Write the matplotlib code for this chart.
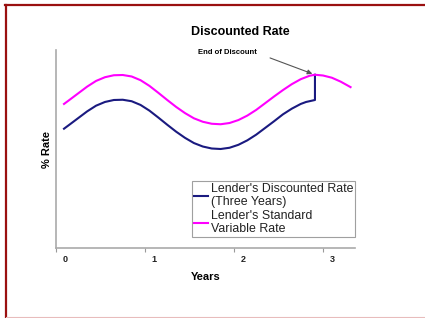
import matplotlib
matplotlib.use("Agg")
import matplotlib.pyplot as plt
import matplotlib.transforms as mtransforms
from matplotlib.lines import Line2D

plt.rcParams['font.family'] = ['Liberation Sans', 'DejaVu Sans']

# Data (years, % rate)
years_std = [0.09, 0.15, 0.25, 0.35, 0.45, 0.55, 0.65, 0.75, 0.85, 0.95, 1.05, 1.15,
             1.25, 1.35, 1.45, 1.55, 1.65, 1.75, 1.85, 1.95, 2.05, 2.15, 2.25, 2.35,
             2.45, 2.55, 2.65, 2.75, 2.85, 2.91, 3.0, 3.1, 3.2, 3.31]
rate_std = [5.82, 5.98, 6.25, 6.52, 6.75, 6.9, 6.98, 6.99, 6.93, 6.78, 6.55, 6.27,
            5.98, 5.7, 5.45, 5.24, 5.1, 5.02, 5.0, 5.05, 5.17, 5.35, 5.58, 5.85,
            6.12, 6.38, 6.62, 6.82, 6.96, 7.0, 6.97, 6.88, 6.72, 6.5]
years_disc = [0.09, 0.15, 0.25, 0.35, 0.45, 0.55, 0.65, 0.75, 0.85, 0.95, 1.05, 1.15,
              1.25, 1.35, 1.45, 1.55, 1.65, 1.75, 1.85, 1.95, 2.05, 2.15, 2.25, 2.35,
              2.45, 2.55, 2.65, 2.75, 2.81, 2.91, 2.91]
rate_disc = [4.82, 4.98, 5.25, 5.52, 5.75, 5.9, 5.98, 5.99, 5.93, 5.78, 5.55, 5.27,
             4.98, 4.7, 4.45, 4.24, 4.1, 4.02, 4.0, 4.05, 4.17, 4.35, 4.58, 4.85,
             5.12, 5.4, 5.63, 5.82, 5.9, 5.98, 7.0]
xticks = [0, 1, 2, 3]
xtick_labels = ["0", "1", "2", "3"]
end_discount = (2.91, 7.0)

W, H = 425, 318
fig = plt.figure(figsize=(W / 100, H / 100), dpi=100)
fig.patch.set_facecolor('white')

ax = fig.add_axes([56 / W, 1 - 248 / H, (355 - 56) / W, (248 - 50) / H])
ax.plot(years_disc, rate_disc, color='#1a1a80', lw=1.5, label="Lender's Discounted Rate\n(Three Years)")
ax.plot(years_std, rate_std, color='#ff00ff', lw=1.5, label="Lender's Standard\nVariable Rate")
ax.set_xlim(0, 3.36)
ax.set_ylim(0, 8)
ax.set_yticks([])
ax.set_xticks(xticks)
ax.set_xticklabels([])
# tick labels sit slightly to the right of their ticks in the reference
lab_trans = ax.get_xaxis_transform() + mtransforms.ScaledTranslation(0.09, -0.12, fig.dpi_scale_trans)
for xv, lab in zip(xticks, xtick_labels):
    ax.text(xv, 0, lab, transform=lab_trans, fontsize=6.5, fontweight='bold',
            color='#222222', ha='center', va='center')
ax.tick_params(axis='x', length=3, width=0.8, color='#999999', direction='out')
for s in ['top', 'right']:
    ax.spines[s].set_visible(False)
for s in ['left', 'bottom']:
    ax.spines[s].set_color('#aaaaaa')
    ax.spines[s].set_linewidth(1.2)

ax.set_xlabel('Years', fontsize=8, fontweight='bold', labelpad=11)
ax.set_ylabel('% Rate', fontsize=8, fontweight='bold', labelpad=3)

fig.text(240 / W, 1 - 32 / H, 'Discounted Rate', fontsize=9, fontweight='bold',
         ha='center', va='center')

ax.annotate('End of Discount', xy=end_discount, xytext=(198 / W, 1 - 53 / H),
            textcoords='figure fraction', fontsize=5.5, fontweight='bold',
            ha='left', va='center',
            arrowprops=dict(arrowstyle='-|>', color='#555555', lw=0.8,
                            shrinkA=8, shrinkB=2, mutation_scale=7,
                            relpos=(1.0, 0.5)))

leg = ax.legend(loc='lower right', bbox_to_anchor=(1.0, 11 / 198), fontsize=8.9,
                frameon=True, fancybox=False, edgecolor='#888888', handlelength=1.1,
                handletextpad=0.25, borderpad=0.15, labelspacing=0.2, borderaxespad=0)
leg.get_frame().set_linewidth(0.8)
for t in leg.get_texts():
    t.set_linespacing(1.08)
    t.set_color('#222222')

# Border lines
fig.add_artist(Line2D([5 / W, 1], [1 - 4.5 / H, 1 - 4.5 / H], color='#9a1010', lw=1.6,
                      transform=fig.transFigure))
fig.add_artist(Line2D([6 / W, 6 / W], [0, 1 - 4.5 / H], color='#9a1010', lw=1.6,
                      transform=fig.transFigure))
fig.add_artist(Line2D([6 / W, 1], [1 - 316.5 / H, 1 - 316.5 / H], color='#e8bcbc', lw=0.8,
                      transform=fig.transFigure))

fig.savefig('out.png', dpi=100)
